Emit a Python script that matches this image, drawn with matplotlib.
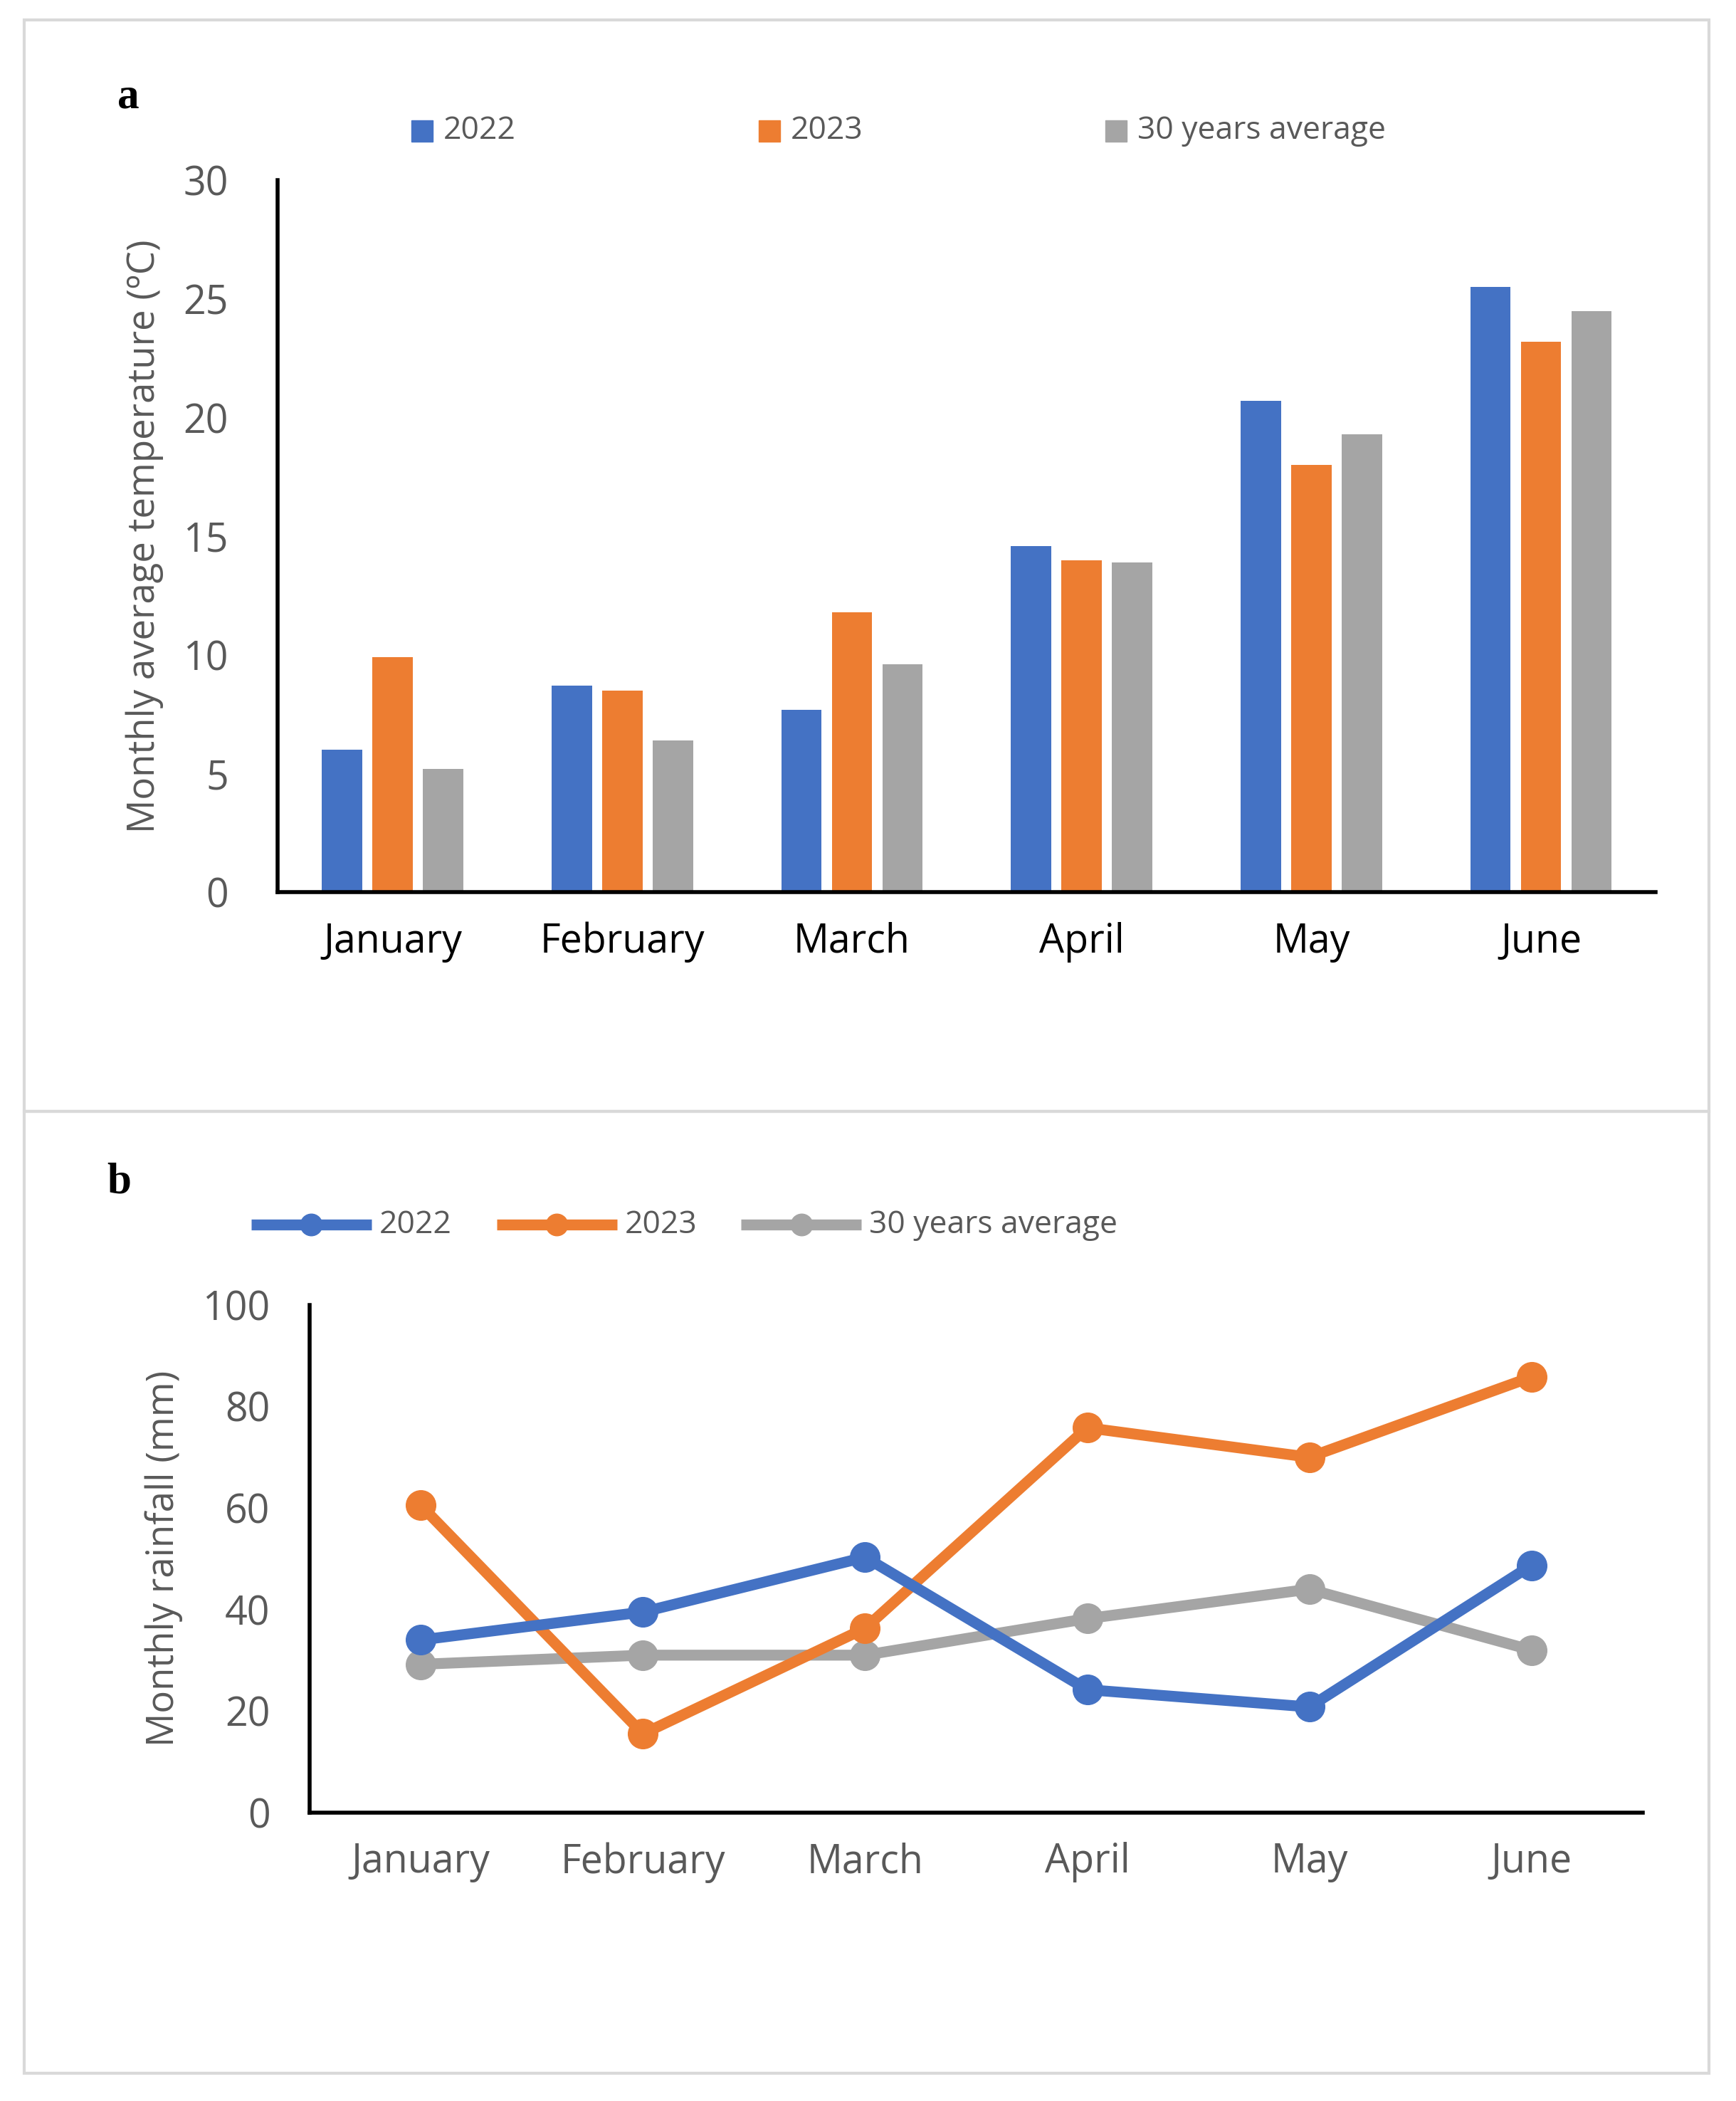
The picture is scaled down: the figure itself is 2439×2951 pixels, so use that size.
import matplotlib
matplotlib.use("Agg")
import matplotlib.pyplot as plt
from matplotlib.patches import Rectangle
from matplotlib.lines import Line2D
import numpy as np

months = ["January", "February", "March", "April", "May", "June"]
temp_2022 = [6.0, 8.7, 7.7, 14.6, 20.7, 25.5]
temp_2023 = [9.9, 8.5, 11.8, 14.0, 18.0, 23.2]
temp_30yr = [5.2, 6.4, 9.6, 13.9, 19.3, 24.5]
rain_2022 = [34, 39.5, 50.3, 24.2, 20.8, 48.7]
rain_2023 = [60.5, 15.5, 36.3, 75.8, 70, 85.8]
rain_30yr = [29.2, 31, 31, 38.2, 44, 32]
series_names = ["2022", "2023", "30 years average"]

C = ["#4472C4", "#ED7D31", "#A5A5A5"]
FONT = "Open Sans"
W, H = 1300, 1573
fig = plt.figure(figsize=(24.39, 29.51), dpi=100)

def fx(x): return x / W
def fy(y): return 1 - y / H

# panel borders
for (x0, y0, x1, y1) in [(18, 15, 1280, 832), (18, 832, 1280, 1552)]:
    fig.add_artist(Rectangle((fx(x0), fy(y1)), fx(x1) - fx(x0), fy(y0) - fy(y1),
                             transform=fig.transFigure, fill=False, ec="#D9D9D9", lw=3))

# panel a
axa = fig.add_axes([fx(208), fy(668), fx(1240) - fx(208), fy(135) - fy(668)])
x = np.arange(len(months))
bw = 0.175
for i, d in enumerate([temp_2022, temp_2023, temp_30yr]):
    axa.bar(x + (i - 1) * 0.22, d, bw, color=C[i])
axa.set_xlim(-0.5, 5.5)
axa.set_ylim(0, 30)
axa.set_yticks(range(0, 31, 5))
axa.set_xticks(x)
axa.set_xticklabels(months, fontsize=40, family=FONT, color="black")
axa.tick_params(axis="x", length=0, pad=30)
axa.tick_params(axis="y", length=0, labelsize=40, labelcolor="#595959", pad=50)
for t in axa.get_yticklabels(): t.set_family(FONT)
for s in ["top", "right"]: axa.spines[s].set_visible(False)
for s in ["left", "bottom"]: axa.spines[s].set_linewidth(4)
axa.set_ylabel("Monthly average temperature (ºC)", fontsize=38, family=FONT, color="#595959", labelpad=20)
fig.text(fx(88), fy(73), "a", fontsize=44, family="Liberation Serif", weight="bold", va="center")
for i, xs in enumerate([308, 568, 828]):
    fig.add_artist(Rectangle((fx(xs), fy(106)), fx(16), 16 / H, transform=fig.transFigure, color=C[i]))
    fig.text(fx(xs + 24), fy(98), series_names[i], fontsize=32, family=FONT, color="#595959", va="center")

# panel b
axb = fig.add_axes([fx(232), fy(1357), fx(1230) - fx(232), fy(977) - fy(1357)])
for i, d in enumerate([rain_2022, rain_2023, rain_30yr]):
    axb.plot(x, d, color=C[i], lw=11, marker="o", ms=30, zorder=3 - i if i else 4)
axb.set_xlim(-0.5, 5.5)
axb.set_ylim(0, 100)
axb.set_yticks(range(0, 101, 20))
axb.set_xticks(x)
axb.set_xticklabels(months, fontsize=40, family=FONT, color="#595959")
axb.tick_params(axis="x", length=0, pad=30)
axb.tick_params(axis="y", length=0, labelsize=40, labelcolor="#595959", pad=40)
for t in axb.get_yticklabels(): t.set_family(FONT)
for s in ["top", "right"]: axb.spines[s].set_visible(False)
for s in ["left", "bottom"]: axb.spines[s].set_linewidth(4)
axb.set_ylabel("Monthly rainfall (mm)", fontsize=38, family=FONT, color="#595959", labelpad=20)
fig.text(fx(80), fy(885), "b", fontsize=44, family="Liberation Serif", weight="bold", va="center")
for i, xs in enumerate([188, 372, 555]):
    fig.add_artist(Line2D([fx(xs), fx(xs + 90)], [fy(917), fy(917)], transform=fig.transFigure,
                          color=C[i], lw=11, solid_capstyle="butt"))
    fig.add_artist(Line2D([fx(xs + 45)], [fy(917)], transform=fig.transFigure,
                          color=C[i], marker="o", ms=22))
    fig.text(fx(xs + 96), fy(917), series_names[i], fontsize=32, family=FONT, color="#595959", va="center")

fig.savefig("out.png", dpi=100)
